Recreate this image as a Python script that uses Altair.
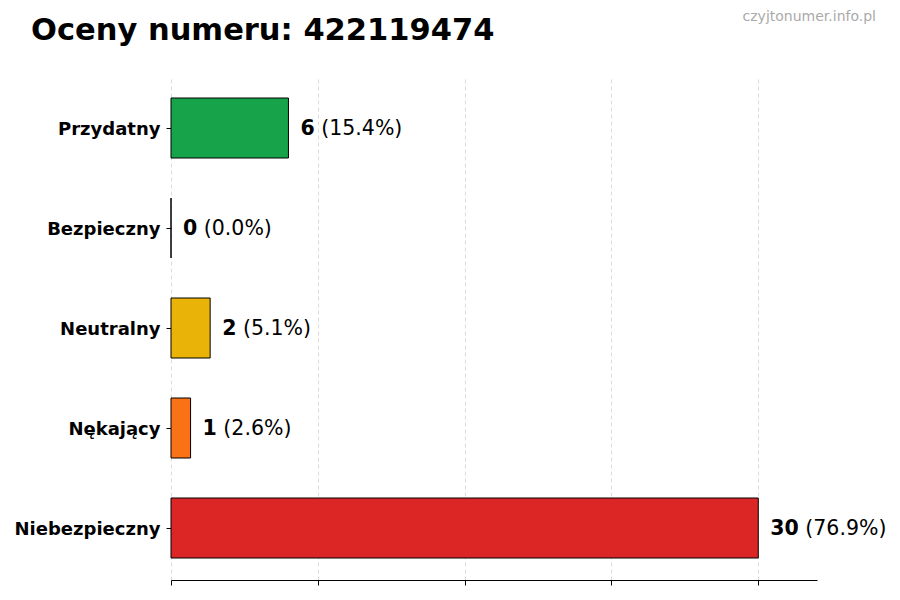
import altair as alt
import pandas as pd

categories = ["Przydatny", "Bezpieczny", "Neutralny", "Nękający", "Niebezpieczny"]
counts = [6, 0, 2, 1, 30]
colors = ["#16a34a", "#2563eb", "#eab308", "#f97316", "#dc2626"]
x_ticks = [0, 7.5, 15, 22.5, 30]
title_text = "Oceny numeru: 422119474"
watermark = "czyjtonumer.info.pl"

total = sum(counts)
df = pd.DataFrame({
    "cat": categories,
    "count": counts,
    "pct": [c / total * 100 for c in counts],
})

FONT = "DejaVu Sans"
LABEL_SIZE = 20.5
DIGIT_W = 0.696 * LABEL_SIZE
SPACE_W = 0.318 * LABEL_SIZE
GAP = 12

x_scale = alt.Scale(domain=[0, max(counts) * 1.1], nice=False, zero=True)
y_scale = alt.Scale(domain=categories, paddingInner=0.4, paddingOuter=0.22)

base = alt.Chart(df)

bars = base.mark_bar(stroke="black", strokeWidth=1).encode(
    x=alt.X("count:Q", scale=x_scale, axis=alt.Axis(
        values=x_ticks, labels=False, title=None, domain=True, domainColor="black",
        ticks=True, tickColor="black", tickSize=5, grid=True, gridColor="#d3d3d3",
        gridDash=[4, 3], gridWidth=0.8)),
    y=alt.Y("cat:N", scale=y_scale, sort=categories, axis=alt.Axis(
        title=None, domain=False, ticks=True, tickColor="black", tickSize=5,
        labelPadding=6, labelFont=FONT, labelFontSize=18, labelFontWeight="bold",
        labelColor="black", grid=False, labelOffset=1.5)),
    color=alt.Color("cat:N", scale=alt.Scale(domain=categories, range=colors), legend=None),
)

num_text = base.mark_text(
    align="left", baseline="middle", dx=GAP, dy=1, font=FONT, fontSize=LABEL_SIZE,
    fontWeight="bold", color="black"
).encode(
    x=alt.X("count:Q", scale=x_scale),
    y=alt.Y("cat:N", scale=y_scale, sort=categories),
    text=alt.Text("count:Q", format="d"),
)

def pct_layer(cond, ndigits):
    return base.transform_filter(cond).transform_calculate(
        plabel="'(' + format(datum.pct, '.1f') + '%)'"
    ).mark_text(
        align="left", baseline="middle", dx=GAP + ndigits * DIGIT_W + SPACE_W, dy=1,
        font=FONT, fontSize=LABEL_SIZE, color="black"
    ).encode(
        x=alt.X("count:Q", scale=x_scale),
        y=alt.Y("cat:N", scale=y_scale, sort=categories),
        text="plabel:N",
    )

pct1 = pct_layer("datum.count < 10", 1)
pct2 = pct_layer("datum.count >= 10", 2)

wm = alt.Chart(pd.DataFrame({"t": [watermark]})).mark_text(
    align="right", baseline="middle", font=FONT, fontSize=14, color="#aaaaaa"
).encode(
    x=alt.value(705), y=alt.value(-59), text="t:N"
)

chart = alt.layer(bars, num_text, pct1, pct2, wm).properties(
    width=646,
    height=504,
    title=alt.TitleParams(
        title_text, anchor="start", font=FONT, fontSize=30.5, fontWeight="bold",
        color="black", dx=17, offset=0, baseline="alphabetic", dy=60
    ),
    autosize=alt.AutoSizeParams(type="none"),
    padding={"left": 163, "top": 68, "right": 75, "bottom": 12},
    background="white",
).configure_view(strokeWidth=0)

chart.save("out.html", embed_options={"renderer": "svg", "actions": False})
